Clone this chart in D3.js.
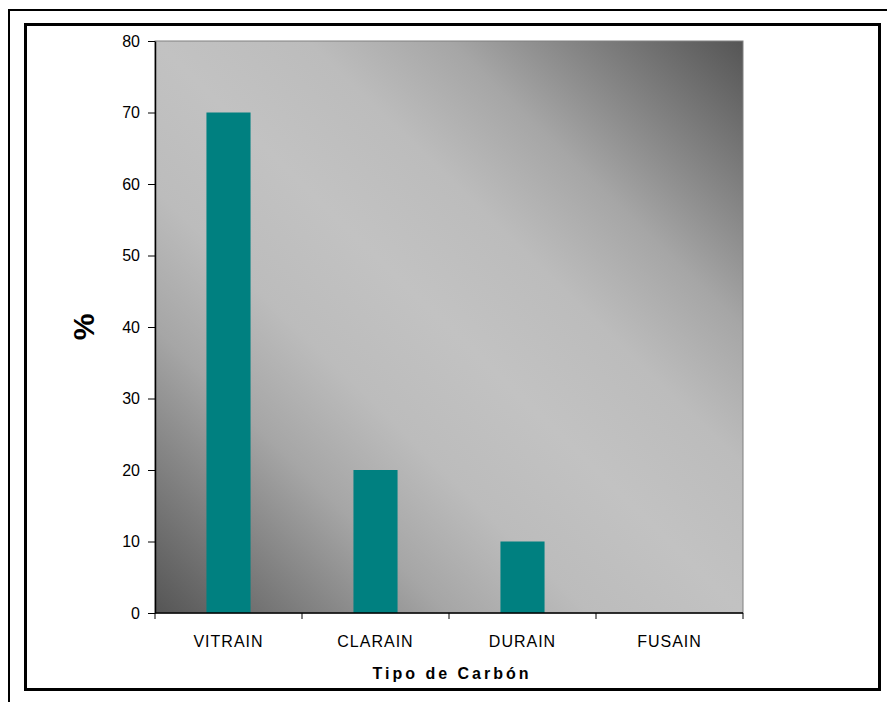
<!DOCTYPE html>
<html>
<head>
<meta charset="utf-8">
<script src="https://cdn.jsdelivr.net/npm/d3@7"></script>
<style>
  html, body { margin: 0; padding: 0; background: #fff; }
  svg { display: block; }
  text { font-family: "Liberation Sans", Arial, sans-serif; fill: #000; }
</style>
</head>
<body>
<svg id="chart" width="887" height="702"></svg>
<script>
// Coal type composition (%)
const categories = ["VITRAIN", "CLARAIN", "DURAIN", "FUSAIN"];
const values = [70, 20, 10, 0];
const yTicks = [0, 10, 20, 30, 40, 50, 60, 70, 80];
const yTitle = "%";
const xTitle = "Tipo de Carbón";

const svg = d3.select("#chart");
const W = 887, H = 702;
const plot = { left: 155, top: 41, right: 743, bottom: 613 };

// Frames around the chart
svg.append("rect")
  .attr("x", 9).attr("y", 10).attr("width", W + 10).attr("height", H + 10)
  .attr("fill", "none").attr("stroke", "#000").attr("stroke-width", 2);
svg.append("rect")
  .attr("x", 25.5).attr("y", 24.5).attr("width", 854).attr("height", 665)
  .attr("fill", "#fff").attr("stroke", "#000").attr("stroke-width", 3);

// Diagonal gradient for the plot background: dark corners, light diagonal band
const defs = svg.append("defs");
const grad = defs.append("linearGradient")
  .attr("id", "bg")
  .attr("x1", "0").attr("y1", "1").attr("x2", "1").attr("y2", "0");
[[0, "#555555"], [0.12, "#7c7c7c"], [0.25, "#a6a6a6"], [0.37, "#bcbcbc"],
 [0.5, "#c2c2c2"], [0.63, "#bcbcbc"], [0.75, "#a6a6a6"], [0.88, "#7c7c7c"],
 [1, "#555555"]].forEach(([o, c]) =>
  grad.append("stop").attr("offset", o).attr("stop-color", c));

const x = d3.scaleBand()
  .domain(categories)
  .range([plot.left, plot.right])
  .paddingInner(0.7)
  .paddingOuter(0.35);
const xBand = d3.scaleBand()
  .domain(categories)
  .range([plot.left, plot.right]);
const y = d3.scaleLinear().domain([0, 80]).range([plot.bottom, plot.top]);

svg.append("rect")
  .attr("x", plot.left).attr("y", plot.top)
  .attr("width", plot.right - plot.left).attr("height", plot.bottom - plot.top)
  .attr("fill", "url(#bg)")
  .attr("stroke", "#808080").attr("stroke-width", 1);

// Bars
svg.append("g").selectAll("rect")
  .data(categories.map((c, i) => ({ c, v: values[i] })))
  .join("rect")
  .attr("x", d => x(d.c))
  .attr("y", d => y(d.v))
  .attr("width", x.bandwidth())
  .attr("height", d => y(0) - y(d.v))
  .attr("fill", "#008080");

// Y axis
const yAxis = svg.append("g")
  .attr("transform", `translate(${plot.left},0)`)
  .call(d3.axisLeft(y).tickValues(yTicks).tickSize(7).tickPadding(8).tickSizeOuter(0));
yAxis.select(".domain").attr("stroke", "#000").attr("stroke-width", 1.5);
yAxis.selectAll(".tick line").attr("stroke", "#000");
yAxis.selectAll("text")
  .style("font-size", "16px")
  .style("font-family", "Liberation Sans, Arial, sans-serif");

// X axis with ticks on category boundaries
const xAxis = svg.append("g")
  .attr("transform", `translate(0,${plot.bottom})`);
xAxis.append("line")
  .attr("x1", plot.left).attr("x2", plot.right)
  .attr("stroke", "#000").attr("stroke-width", 1.5);
const bounds = categories.map(c => xBand(c)).concat([plot.right]);
xAxis.selectAll(".bt").data(bounds).join("line")
  .attr("class", "bt")
  .attr("x1", d => d).attr("x2", d => d)
  .attr("y1", 0).attr("y2", 6)
  .attr("stroke", "#000");
xAxis.selectAll(".cl").data(categories).join("text")
  .attr("class", "cl")
  .attr("x", d => xBand(d) + xBand.bandwidth() / 2)
  .attr("y", 34)
  .attr("text-anchor", "middle")
  .style("font-size", "16px")
  .style("letter-spacing", "1px")
  .text(d => d);

// Axis titles
svg.append("text")
  .attr("transform", `translate(94,${(plot.top + plot.bottom) / 2}) rotate(-90)`)
  .attr("text-anchor", "middle")
  .style("font-size", "30px")
  .style("font-weight", "bold")
  .text(yTitle);
svg.append("text")
  .attr("x", (plot.left + plot.right) / 2 + 3)
  .attr("y", 679)
  .attr("text-anchor", "middle")
  .style("font-size", "16px")
  .style("font-weight", "bold")
  .style("letter-spacing", "3px")
  .text(xTitle);
</script>
</body>
</html>
